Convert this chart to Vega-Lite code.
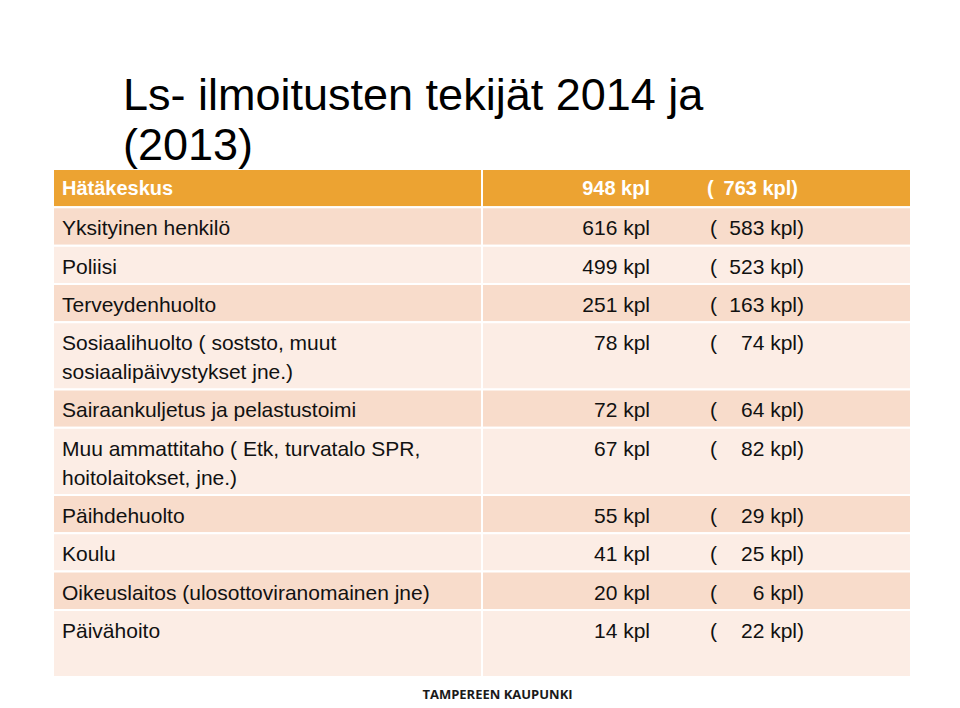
{
  "$schema": "https://vega.github.io/schema/vega-lite/v6.json",
  "width": 858,
  "height": 508,
  "autosize": {"type": "none"},
  "padding": {"left": 53, "top": 169, "right": 49, "bottom": 31},
  "background": "white",
  "config": {
    "view": {"stroke": null},
    "text": {"font": "Liberation Sans", "fontSize": 21, "lineBreak": "\n", "lineHeight": 29, "baseline": "alphabetic"}
  },
  "title": {
    "text": ["Ls- ilmoitusten tekijät 2014 ja", "(2013)"],
    "anchor": "start",
    "frame": "group",
    "dx": 70,
    "font": "Liberation Sans",
    "fontSize": 45,
    "fontWeight": "normal",
    "color": "#000000",
    "lineHeight": 50,
    "baseline": "bottom",
    "offset": -46
  },
  "data": {
    "values": [
      {"tekija": "Hätäkeskus", "n2014": 948, "n2013": 763, "rivit": 1},
      {"tekija": "Yksityinen henkilö", "n2014": 616, "n2013": 583, "rivit": 1},
      {"tekija": "Poliisi", "n2014": 499, "n2013": 523, "rivit": 1},
      {"tekija": "Terveydenhuolto", "n2014": 251, "n2013": 163, "rivit": 1},
      {"tekija": "Sosiaalihuolto ( soststo, muut\nsosiaalipäivystykset jne.)", "n2014": 78, "n2013": 74, "rivit": 2},
      {"tekija": "Sairaankuljetus ja pelastustoimi", "n2014": 72, "n2013": 64, "rivit": 1},
      {"tekija": "Muu ammattitaho ( Etk, turvatalo SPR,\nhoitolaitokset, jne.)", "n2014": 67, "n2013": 82, "rivit": 2},
      {"tekija": "Päihdehuolto", "n2014": 55, "n2013": 29, "rivit": 1},
      {"tekija": "Koulu", "n2014": 41, "n2013": 25, "rivit": 1},
      {"tekija": "Oikeuslaitos (ulosottoviranomainen jne)", "n2014": 20, "n2013": 6, "rivit": 1},
      {"tekija": "Päivähoito", "n2014": 14, "n2013": 22, "rivit": 2}
    ]
  },
  "transform": [
    {"window": [{"op": "row_number", "as": "i"}]},
    {"calculate": "datum.rivit == 2 ? 1.75 : 1", "as": "h"},
    {"window": [{"op": "sum", "field": "h", "as": "bottom"}], "frame": [null, 0]},
    {"calculate": "datum.bottom - datum.h", "as": "top"},
    {"calculate": "datum.i == 1 ? 'otsikko' : (datum.i % 2 == 0 ? 'tumma' : 'vaalea')", "as": "vari"},
    {"calculate": "datum.n2014 + ' kpl'", "as": "t2014"},
    {"calculate": "datum.n2013 + ' kpl)'", "as": "t2013"}
  ],
  "encoding": {
    "y": {"field": "top", "type": "quantitative", "scale": {"domain": [0, 13.25], "reverse": true, "nice": false, "zero": false}, "axis": null}
  },
  "layer": [
    {
      "mark": {"type": "rect", "stroke": "white", "strokeWidth": 2},
      "encoding": {
        "x": {
          "datum": "Tekijä", "type": "nominal",
          "scale": {"type": "band", "domain": ["Tekijä", "Määrä"], "paddingInner": 0, "paddingOuter": 0},
          "axis": {
            "title": "TAMPEREEN KAUPUNKI", "labels": false, "ticks": false, "domain": false, "grid": false,
            "titleFont": "Open Sans", "titleFontWeight": "bold", "titleFontSize": 13, "titleColor": "#1a1a1a",
            "titleX": 444, "titleY": 17, "titleBaseline": "middle", "titleAlign": "center"
          }
        },
        "y2": {"field": "bottom"},
        "color": {"field": "vari", "type": "nominal", "scale": {"domain": ["otsikko", "tumma", "vaalea"], "range": ["#ECA332", "#F8DCCB", "#FCEDE5"]}, "legend": null}
      }
    },
    {
      "mark": {"type": "rect", "stroke": "white", "strokeWidth": 2},
      "encoding": {
        "x": {"datum": "Määrä", "type": "nominal"},
        "y2": {"field": "bottom"},
        "color": {"field": "vari", "type": "nominal", "legend": null}
      }
    },
    {
      "transform": [{"filter": "datum.i > 1"}],
      "layer": [
        {
          "mark": {"type": "text", "align": "left", "dx": 9, "dy": 28, "color": "#111111"},
          "encoding": {"x": {"datum": "Tekijä", "type": "nominal", "bandPosition": 0}, "text": {"field": "tekija"}}
        },
        {
          "mark": {"type": "text", "align": "right", "dx": 168, "dy": 28, "color": "#111111"},
          "encoding": {"x": {"datum": "Määrä", "type": "nominal", "bandPosition": 0}, "text": {"field": "t2014"}}
        },
        {
          "mark": {"type": "text", "align": "left", "dx": 228, "dy": 28, "color": "#111111", "text": "("},
          "encoding": {"x": {"datum": "Määrä", "type": "nominal", "bandPosition": 0}}
        },
        {
          "mark": {"type": "text", "align": "right", "dx": 322, "dy": 28, "color": "#111111"},
          "encoding": {"x": {"datum": "Määrä", "type": "nominal", "bandPosition": 0}, "text": {"field": "t2013"}}
        }
      ]
    },
    {
      "transform": [{"filter": "datum.i == 1"}],
      "layer": [
        {
          "mark": {"type": "text", "align": "left", "dx": 9, "dy": 26, "color": "white", "fontWeight": "bold", "fontSize": 20},
          "encoding": {"x": {"datum": "Tekijä", "type": "nominal", "bandPosition": 0}, "text": {"field": "tekija"}}
        },
        {
          "mark": {"type": "text", "align": "right", "dx": 168, "dy": 26, "color": "white", "fontWeight": "bold", "fontSize": 20},
          "encoding": {"x": {"datum": "Määrä", "type": "nominal", "bandPosition": 0}, "text": {"field": "t2014"}}
        },
        {
          "mark": {"type": "text", "align": "left", "dx": 225, "dy": 26, "color": "white", "fontWeight": "bold", "fontSize": 20, "text": "("},
          "encoding": {"x": {"datum": "Määrä", "type": "nominal", "bandPosition": 0}}
        },
        {
          "mark": {"type": "text", "align": "right", "dx": 316, "dy": 26, "color": "white", "fontWeight": "bold", "fontSize": 20},
          "encoding": {"x": {"datum": "Määrä", "type": "nominal", "bandPosition": 0}, "text": {"field": "t2013"}}
        }
      ]
    }
  ]
}
